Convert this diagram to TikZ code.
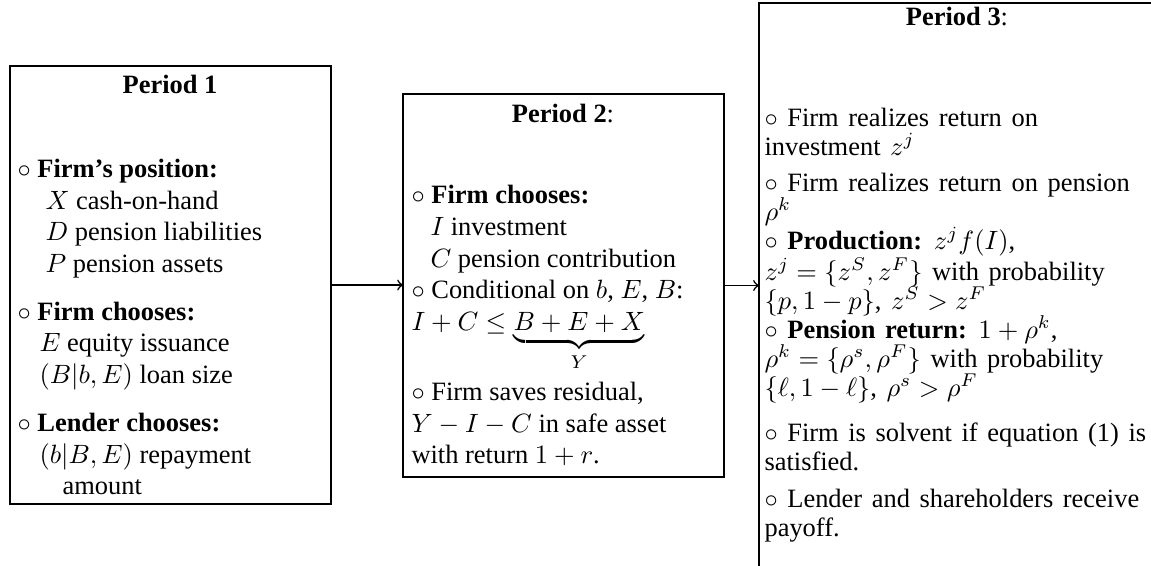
\documentclass[tikz,border=0pt]{standalone}
\usepackage{fontspec}
\setmainfont{Liberation Serif}
\newfontfamily\widefont[WordSpace=1.45]{Liberation Serif}
\begin{document}
\begin{tikzpicture}[x=0.378pt,y=-0.378pt,
  box/.style={draw, line width=0.45pt, inner sep=0pt, outer sep=0pt},
  ttl/.style={anchor=base, inner sep=0pt, font=\fontsize{10}{12}\selectfont},
  txt/.style={anchor=base west, inner sep=0pt, font=\fontsize{10}{12}\selectfont},
  wtxt/.style={anchor=base west, inner sep=0pt, font=\fontsize{10}{12}\selectfont\widefont},
  conn/.style={->, line width=0.6pt}]
\clip (0,0) rectangle (1151,565);
\useasboundingbox (0,0) rectangle (1151,565);
% boxes
\node[box, minimum width=121.3pt, minimum height=165.6pt] (b1) at (170.5,285) {};
\node[box, minimum width=121.3pt, minimum height=144.8pt] (b2) at (563.5,285.5) {};
\node[box, minimum width=149.7pt, minimum height=213.2pt] (b3) at (957,285) {};
% box 1
\node[ttl] (t1) at (170,93) {\textbf{Period 1}};
\node[txt] (a1) at (17,177) {$\circ$ \textbf{Firm's position:}};
\node[txt] (a2) at (45,209) {$X$ cash-on-hand};
\node[txt] (a3) at (45,240) {$D$ pension liabilities};
\node[txt] (a4) at (45,272) {$P$ pension assets};
\node[txt] (a5) at (17,320) {$\circ$ \textbf{Firm chooses:}};
\node[txt] (a6) at (39,351) {$E$ equity issuance};
\node[txt] (a7) at (39,383) {$(B|b,E)$ loan size};
\node[txt] (a8) at (17,431) {$\circ$ \textbf{Lender chooses:}};
\node[txt] (a9) at (39,463) {$(b|B,E)$ repayment};
\node[txt] (a10) at (62,494) {amount};
% box 2
\node[ttl] (t2) at (563,122) {\textbf{Period 2}:};
\node[txt] (c1) at (411,203) {$\circ$ \textbf{Firm chooses:}};
\node[txt] (c2) at (430,235) {$I$ investment};
\node[txt] (c3) at (430,267) {$C$ pension contribution};
\node[txt] (c4) at (411,298) {$\circ$ Conditional on $b$, $E$, $B$:};
\node[txt] (c5) at (411,330) {$I+C\le\underbrace{B+E+X}_{Y}$};
\node[txt] (c6) at (411,400) {$\circ$ Firm saves residual,};
\node[txt] (c7) at (411,432) {$Y-I-C$ in safe asset};
\node[txt] (c8) at (411,463) {with return $1+r$.};
% box 3
\node[ttl] (t3) at (957,25) {\textbf{Period 3}:};
\node[wtxt] (d1) at (764,126) {$\circ$ Firm realizes return on};
\node[wtxt] (d2) at (764,155) {investment $z^j$};
\node[wtxt] (d3) at (764,191) {$\circ$ Firm realizes return on pension};
\node[wtxt] (d4) at (764,220) {$\rho^k$};
\node[wtxt] (d5) at (764,249) {$\circ$ \textbf{Production:} $z^jf(I)$,};
\node[wtxt] (d6) at (764,280) {$z^j=\{z^S,z^F\}$ with probability};
\node[wtxt] (d7) at (764,309) {$\{p,1-p\}$, $z^S>z^F$};
\node[wtxt] (d8) at (764,338) {$\circ$ \textbf{Pension return:} $1+\rho^k$,};
\node[wtxt] (d9) at (764,367) {$\rho^k=\{\rho^s,\rho^F\}$ with probability};
\node[wtxt] (d10) at (764,396) {$\{\ell,1-\ell\}$, $\rho^s>\rho^F$};
\node[wtxt] (d11) at (764,441) {$\circ$ Firm is solvent if equation (1) is};
\node[wtxt] (d12) at (764,470) {satisfied.};
\node[wtxt] (d13) at (764,507) {$\circ$ Lender and shareholders receive};
\node[wtxt] (d14) at (764,536) {payoff.};
% connectors
\draw[conn] (b1.east) -- (b1.east -| b2.west);
\draw[conn] (b2.east) -- (b2.east -| b3.west);
\end{tikzpicture}
\end{document}
